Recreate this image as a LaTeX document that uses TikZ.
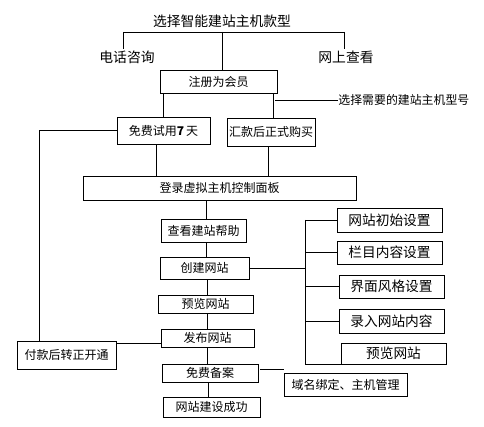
\documentclass[tikz,border=0pt]{standalone}
\usepackage{fontspec}
\newfontfamily\cjk{Noto Sans CJK SC}
\begin{document}
\begin{tikzpicture}[x=1pt,y=-1pt,line width=0.8pt,
  box/.style={draw,rectangle,inner sep=0pt,font=\cjk\fontsize{12}{14}\selectfont},
  bigbox/.style={box,font=\cjk\fontsize{13.7}{15}\selectfont},
  lbl/.style={inner sep=1pt,font=\cjk\fontsize{13.8}{15}\selectfont},
  note/.style={inner sep=0pt,font=\cjk\fontsize{11.9}{14}\selectfont}]
\useasboundingbox (0,0) rectangle (484,427);
% top labels
\node[lbl] (title) at (222,21) {选择智能建站主机款型};
\node[lbl] (phone) at (127,57) {电话咨询};
\node[lbl] (web) at (346,57) {网上查看};
\coordinate (tl) at (123,32);
\coordinate (tr) at (344,32);
% boxes
\node[box,minimum width=117,minimum height=23] (reg) at (218.5,81.5) {注册为会员};
\node[box,minimum width=93,minimum height=27] (free) at (163.5,130.5) {免费试用\textbf{7}\hspace{2pt}天};
\node[box,minimum width=88,minimum height=28] (buy) at (271,132) {汇款后正式购买};
\node[note,anchor=west] (note) at (338,100) {选择需要的建站主机型号};
\node[box,minimum width=273,minimum height=24] (login) at (219.5,188) {登录虚拟主机控制面板};
\node[box,minimum width=85,minimum height=23] (help) at (203.5,230.5) {查看建站帮助};
\node[box,minimum width=89,minimum height=22] (create) at (204.5,268) {创建网站};
\node[box,minimum width=95,minimum height=18] (preview) at (205.5,304) {预览网站};
\node[box,minimum width=93,minimum height=18] (publish) at (207.5,338) {发布网站};
\node[box,minimum width=96,minimum height=18] (beian) at (210,373) {免费备案};
\node[box,minimum width=97,minimum height=20] (success) at (211.5,407) {网站建设成功};
\node[box,minimum width=99,minimum height=28] (pay) at (66.5,355) {付款后转正开通};
\node[box,minimum width=123,minimum height=23] (domain) at (345.5,384.5) {域名绑定、主机管理};
\node[bigbox,minimum width=105,minimum height=24] (r1) at (389.5,220) {网站初始设置};
\node[bigbox,minimum width=105,minimum height=23] (r2) at (389.5,252.5) {栏目内容设置};
\node[bigbox,minimum width=105,minimum height=23] (r3) at (391.5,286.5) {界面风格设置};
\node[bigbox,minimum width=105,minimum height=24] (r4) at (391.5,321) {录入网站内容};
\node[bigbox,minimum width=105,minimum height=21] (r5) at (393.5,353.5) {预览网站};
% connectors
\draw (tl) -- (tr);
\draw (tl) -- (tl |- phone.north);
\draw (tr) -- (tr |- web.north);
\draw (title.south |- tl) -- (title.south |- reg.north);
\draw (free.north |- reg.south) -- (free.north);
\draw ([xshift=2pt]buy.north |- reg.south) -- ([xshift=2pt]buy.north);
\draw ([xshift=4pt]buy.north |- note.west) -- (note.west);
\coordinate (pl) at ([xshift=23pt]pay.north west);
\draw (free.west) -- (free.west -| pl) -- (pl);
\draw ([xshift=-7.5pt]free.south) -- ([xshift=-7.5pt]free.south |- login.north);
\draw ([xshift=-3pt]buy.south) -- ([xshift=-3pt]buy.south |- login.north);
\draw ([xshift=2.5pt]help.north |- login.south) -- ([xshift=2.5pt]help.north);
\draw ([xshift=2.5pt]help.south) -- ([xshift=2.5pt]help.south |- create.north);
\draw ([xshift=2.5pt]create.south) -- ([xshift=2.5pt]create.south |- preview.north);
\draw ([xshift=1.5pt]preview.south) -- ([xshift=1.5pt]preview.south |- publish.north);
\draw (publish.south) -- (publish.south |- beian.north);
\draw ([xshift=-2pt]beian.south) -- ([xshift=-2pt]beian.south |- success.north);
\draw ([yshift=-2.5pt]pay.north east) -- ([yshift=-2.5pt]pay.north east -| publish.west);
\coordinate (bt) at ([xshift=-31pt]r1.west);
\coordinate (bb) at (bt |- r5.south west);
\draw (create.east) -- (create.east -| bt);
\draw (bt) -- (bb) -- (r5.south west);
\draw (bt) -- (r1.west);
\draw (bt |- r2.west) -- (r2.west);
\draw (bt |- r3.west) -- (r3.west);
\draw (bt |- r4.west) -- (r4.west);
\draw ([xshift=2pt,yshift=4pt]beian.east) -- ([yshift=4pt]beian.east -| domain.west);
\end{tikzpicture}
\end{document}
